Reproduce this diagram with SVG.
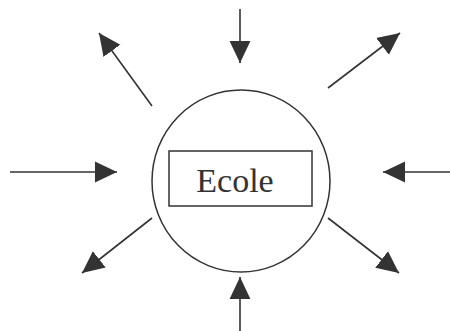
<svg xmlns="http://www.w3.org/2000/svg" width="450" height="331" viewBox="0 0 450 331">
<style>
.c{fill:none;stroke:#333;stroke-width:1.5}
.a{stroke:#333;stroke-width:1.6;fill:none}
.t{font-family:"Liberation Serif","Times New Roman",serif;font-size:34px;fill:#333}
</style>
<defs>
<marker id="ah" markerUnits="userSpaceOnUse" markerWidth="22" markerHeight="22" viewBox="0 0 20 20" refX="20" refY="10" orient="auto">
<path d="M0,0.5 L20,10 L0,19.5 Z" fill="#333"/>
</marker>
</defs>
<rect width="450" height="331" fill="#fff"/>
<g id="connectors">
<line class="a" x1="240" y1="9" x2="240" y2="63" marker-end="url(#ah)"/>
<line class="a" x1="240" y1="331" x2="240" y2="277" marker-end="url(#ah)"/>
<line class="a" x1="10" y1="172" x2="117" y2="172" marker-end="url(#ah)"/>
<line class="a" x1="450" y1="172" x2="383" y2="172" marker-end="url(#ah)"/>
<line class="a" x1="152" y1="106" x2="99" y2="33" marker-end="url(#ah)"/>
<line class="a" x1="328" y1="88" x2="400" y2="33" marker-end="url(#ah)"/>
<line class="a" x1="152" y1="218" x2="82" y2="273" marker-end="url(#ah)"/>
<line class="a" x1="328" y1="218" x2="399" y2="273" marker-end="url(#ah)"/>
</g>
<g id="circle">
<ellipse class="c" cx="241" cy="181" rx="89" ry="91"/>
</g>
<g id="ecole">
<rect class="c" x="169" y="151" width="143" height="55"/>
<text class="t" x="235" y="192" text-anchor="middle">Ecole</text>
</g>
</svg>
